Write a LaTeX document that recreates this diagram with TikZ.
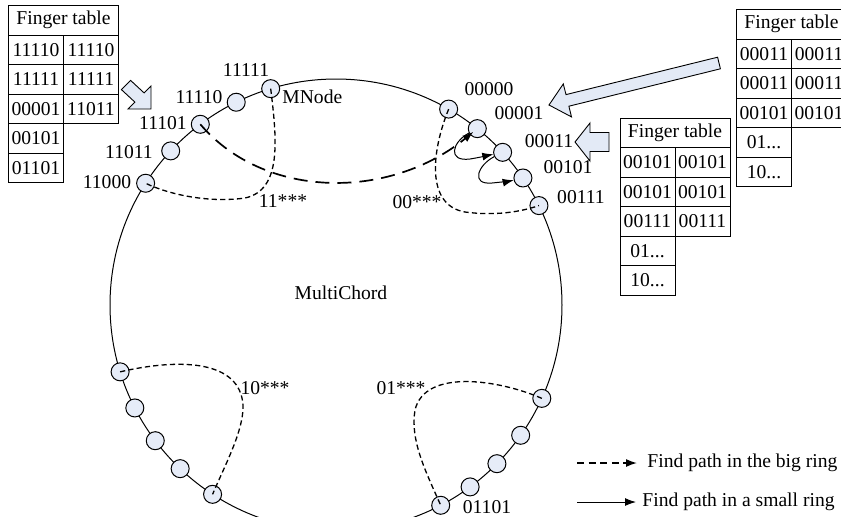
\documentclass[tikz,border=0pt]{standalone}
\usepackage{fontspec}
\setmainfont{Liberation Serif}
\usetikzlibrary{arrows.meta,calc}
\definecolor{nodefill}{HTML}{E6ECF8}
\definecolor{blockfill}{HTML}{E3EAF6}
\tikzset{
  ringnode/.style={circle, draw, fill=nodefill, minimum size=9pt, inner sep=0pt, line width=0.5pt},
  lbl/.style={inner sep=0pt},
  hdr/.style={draw, line width=0.5pt, minimum width=55pt, minimum height=14.75pt, inner sep=0pt, anchor=north west},
  cell/.style={draw, line width=0.5pt, minimum width=27.5pt, minimum height=14.75pt, inner sep=0pt, anchor=north west},
  ringline/.style={line width=0.5pt},
  bigpath/.style={dash pattern=on 2.6pt off 1.6pt, line width=0.65pt},
  legdash/.style={dash pattern=on 3.6pt off 2.2pt, line width=0.75pt, -{Latex[length=5.5pt,width=4pt]}},
  longpath/.style={dash pattern=on 7pt off 4pt, line width=0.85pt, -{Latex[length=5.5pt,width=4pt]}},
  smallpath/.style={line width=0.5pt, -{Latex[length=5.5pt,width=4pt]}},
  blockarrow/.style={draw, fill=blockfill, line width=0.45pt, line join=miter},
}
% three dots written out, kept away from \foreach's range syntax
\newcommand\tdots{.{}.{}.}
% finger table: #1 name, #2 top-left corner, #3 two-column rows, #4 one-column rows
\newcommand\fingertable[4]{%
  \node[hdr] (#1-h) at (#2) {Finger table};
  \foreach \a/\b [count=\i] in {#3} {
    \node[cell] (#1-\i-l) at ($(#2)+(0,29.5*\i)$) {\a};
    \node[cell] (#1-\i-r) at ($(#2)+(55,29.5*\i)$) {\b};
  }
  \foreach \a [count=\i from 4] in {#4} {
    \node[cell] (#1-\i-l) at ($(#2)+(0,29.5*\i)$) {\a};
  }
}
\begin{document}
\begin{tikzpicture}[x=0.5pt, y=-0.5pt, font=\fontsize{9.8}{11}\selectfont]
\useasboundingbox (0,0) rectangle (841,516);

% finger tables
\fingertable{ftA}{8,5}{11110/11110, 11111/11111, 00001/11011}{00101, 01101}
\fingertable{ftB}{736,9}{00011/00011, 00011/00011, 00101/00101}{01\tdots, 10\tdots}
\fingertable{ftC}{619.5,117.5}{00101/00101, 00101/00101, 00111/00111}{01\tdots, 10\tdots}

% block arrows pointing at the nodes that own the tables
\draw[blockarrow] (121.4,89.6) -- (130.6,80.4) -- (144.1,92.9) -- (151,86) -- (151,109) -- (128,109) -- (134.9,102.1) -- cycle;
\draw[blockarrow] (549,105) -- (563.3,83.9) -- (566,94.6) -- (717.6,57.2) -- (720.4,68.8) -- (568.9,106.2) -- (571.5,116.9) -- cycle;
\draw[blockarrow] (575,142) -- (590,123) -- (590,132.5) -- (609,132.5) -- (609,151.5) -- (590,151.5) -- (590,161) -- cycle;

% the big ring
\coordinate (C) at (336,305);
\draw[ringline] (C) circle[radius=226];

% peers on the ring (angles measured clockwise, y points down)
\foreach \nm/\ang in {n11111/-106.8, n11110/-116.2, n11101/-126.9, n11011/-137.0, n11000/-147.4,
                      n00000/-60.1, n00001/-51.3, n00011/-42.5, n00101/-34.2, n00111/-26.1,
                      rb1/24.4, rb2/35.2, rb3/44.6, rb4/53.6, n01101/62.4,
                      lb1/-197.2, lb2/-207.1, lb3/-216.9, lb4/-226.4, lb5/-236.9}
  \node[ringnode] (\nm) at ($(C)+(\ang:226)$) {};

% paths in the big ring
\draw[bigpath] (n11111.center) .. controls (277,140) and (282,190) .. (245,198)
                              .. controls (210,203) and (170,195) .. (n11000.center);
\draw[bigpath] (n00000.center) .. controls (432,150) and (425,205) .. (465,212)
                              .. controls (495,216) and (520,212) .. (n00111.center);
\draw[bigpath] (lb1.center) .. controls (180,358) and (240,360) .. (243,405)
                           .. controls (244,430) and (225,465) .. (lb5.center);
\draw[bigpath] (rb1.center) .. controls (500,380) and (425,368) .. (415,410)
                           .. controls (410,440) and (425,470) .. (n01101.center);
\draw[longpath, shorten >=2.5pt] (n11101.center) .. controls (265,200) and (390,200) .. (n00001.center);

% paths in a small ring
\draw[smallpath] (n00001) .. controls (452,142) and (447,162) .. (470,159)
                          .. controls (482,157) and (490,155) .. (n00011);
\draw[smallpath] (n00011) .. controls (478,165) and (470,185) .. (492,183)
                          .. controls (502,182) and (510,181) .. (n00101);

% labels
\node[lbl] (t11111) at (246,70) {11111};
\node[lbl] (t11110) at (199,97) {11110};
\node[lbl] (t11101) at (163,123) {11101};
\node[lbl] (t11011) at (129,152) {11011};
\node[lbl] (t11000) at (107,182) {11000};
\node[lbl, anchor=west] (tmnode) at (282,97) {MNode};
\node[lbl] (t00000) at (489,89) {00000};
\node[lbl] (t00001) at (519,113) {00001};
\node[lbl] (t00011) at (549,141) {00011};
\node[lbl] (t00101) at (568,167) {00101};
\node[lbl] (t00111) at (581,197) {00111};
\node[lbl] (t01101) at (487,507) {01101};
\node[lbl] (g11) at (283,201) {11***};
\node[lbl] (g00) at (417,202) {00***};
\node[lbl] (g10) at (265,388) {10***};
\node[lbl] (g01) at (401,388) {01***};
\node[lbl] (title) at (341,293) {MultiChord};

% legend
\coordinate (lg1) at (577,463);
\coordinate (lg1e) at (637,463);
\draw[legdash] (lg1) -- (lg1e);
\node[lbl, anchor=west] (lgt1) at (647,463) {Find path in the big ring};
\coordinate (lg2) at (577,502);
\coordinate (lg2e) at (636,502);
\draw[smallpath] (lg2) -- (lg2e);
\node[lbl, anchor=west] (lgt2) at (642,502) {Find path in a small ring};
\end{tikzpicture}
\end{document}
